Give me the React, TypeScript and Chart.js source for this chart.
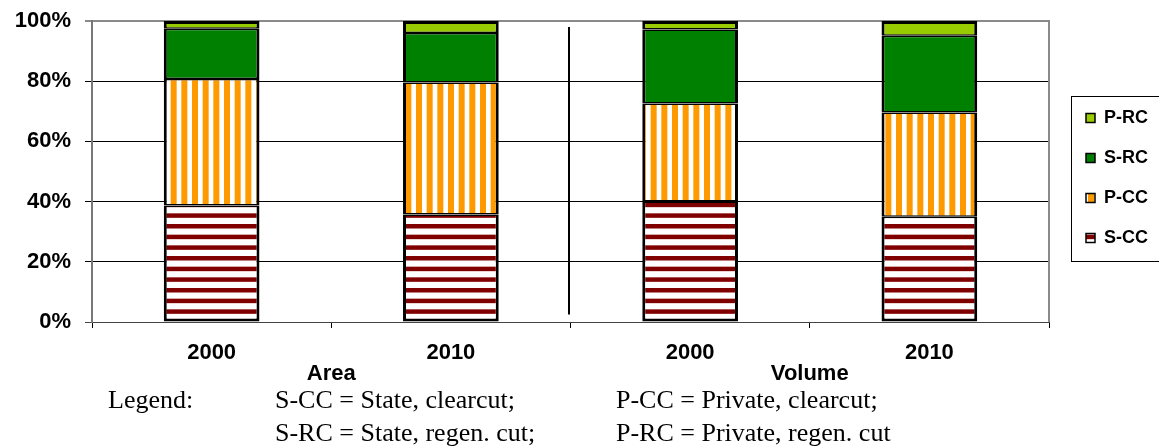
import React, { useEffect, useRef } from 'react';
import { Chart, registerables } from 'chart.js';

Chart.register(...registerables);

// ---- data ----
const categories = ['2000', '2010', '2000', '2010'];
const groupLabels = ['Area', 'Volume'];
const yTicks = [0, 20, 40, 60, 80, 100];
const sCC = [38.7, 35.7, 40.0, 35.0];
const pCC = [42.0, 43.9, 32.6, 34.6];
const sRC = [16.7, 16.4, 24.6, 25.5];
const pRC = [2.6, 4.0, 2.8, 4.9];
const dividerRange = [98, 2.5];
const footLine1 = ['Legend:', 'S-CC = State, clearcut;', 'P-CC = Private, clearcut;'];
const footLine2 = ['', 'S-RC = State, regen. cut;', 'P-RC = Private, regen. cut'];

const SANS = "'Liberation Sans', Arial, sans-serif";
const SERIF = "'Liberation Serif', 'Times New Roman', serif";
const LEGEND_FONT = 18;
const LEGEND_PAD = 22;

function makeStripes(ctx: CanvasRenderingContext2D, horizontal: boolean, color: string, band: number) {
  const period = 32 / 3;
  const c = document.createElement('canvas');
  c.width = horizontal ? 4 : 32;
  c.height = horizontal ? 32 : 4;
  const g = c.getContext('2d')!;
  g.fillStyle = '#ffffff';
  g.fillRect(0, 0, c.width, c.height);
  g.fillStyle = color;
  for (let k = 0; k < 3; k++) {
    const p = k * period;
    if (horizontal) g.fillRect(0, p, c.width, band);
    else g.fillRect(p, 0, band, c.height);
  }
  return ctx.createPattern(c, 'repeat')!;
}

const decorPlugin = {
  id: 'decor',
  afterLayout(chart: any) {
    const L = chart.legend;
    if (L) {
      L.left += 15;
      L.right += 15;
      L.top += 6.5;
      L.bottom += 6.5;
    }
  },
  afterDatasetsDraw(chart: any) {
    const { ctx } = chart;
    const xs = chart.scales.x;
    const ys = chart.scales.y;
    const x = Math.round((xs.getPixelForValue(1) + xs.getPixelForValue(2)) / 2) - 2;
    ctx.save();
    ctx.strokeStyle = '#000';
    ctx.lineWidth = 2;
    ctx.beginPath();
    ctx.moveTo(x, ys.getPixelForValue(dividerRange[0]));
    ctx.lineTo(x, ys.getPixelForValue(dividerRange[1]));
    ctx.stroke();
    ctx.restore();
  },
  afterDraw(chart: any) {
    const { ctx, chartArea } = chart;
    ctx.save();
    // right plot border
    ctx.strokeStyle = '#8a8a8a';
    ctx.lineWidth = 2;
    ctx.beginPath();
    ctx.moveTo(chartArea.right, chartArea.top - 1);
    ctx.lineTo(chartArea.right, chartArea.bottom);
    ctx.stroke();
    // legend frame
    const L = chart.legend;
    if (L && L.columnSizes && L.columnSizes[0]) {
      const colH = L.columnSizes[0].height;
      const y0 = (L.top + LEGEND_PAD + L.bottom - colH) / 2;
      const n = L.legendItems.length;
      const top = Math.round(y0 - 13);
      const bottom = Math.round(y0 + (n - 1) * (LEGEND_FONT + LEGEND_PAD) + LEGEND_FONT + 14);
      const left = Math.round(L.left + LEGEND_PAD - 15);
      ctx.strokeStyle = '#000';
      ctx.lineWidth = 1;
      ctx.strokeRect(left + 0.5, top + 0.5, chart.width, bottom - top);
    }
    ctx.restore();
  },
};

export default function App() {
  const canvasRef = useRef<HTMLCanvasElement | null>(null);

  useEffect(() => {
    const canvas = canvasRef.current!;
    const ctx = canvas.getContext('2d')!;
    const sccFill = makeStripes(ctx, true, '#800000', 4.5);
    const pccFill = makeStripes(ctx, false, '#FF9900', 6);
    const bw = 3;
    const hb = 1.5;
    const common = {
      borderColor: '#000000',
      borderSkipped: false as const,
      barPercentage: 0.4,
      categoryPercentage: 1,
      inflateAmount: 0,
    };
    const bold = (size: number) => ({ family: SANS, size, weight: 'bold' as const });

    const chart = new Chart(canvas, {
      type: 'bar',
      data: {
        labels: categories,
        datasets: [
          { label: 'S-CC', data: sCC, backgroundColor: sccFill, borderWidth: { top: hb, bottom: bw, left: bw, right: bw }, ...common },
          { label: 'P-CC', data: pCC, backgroundColor: pccFill, borderWidth: { top: hb, bottom: hb, left: bw, right: bw }, ...common },
          { label: 'S-RC', data: sRC, backgroundColor: '#008000', borderWidth: { top: hb, bottom: hb, left: bw, right: bw }, ...common },
          { label: 'P-RC', data: pRC, backgroundColor: '#99CC00', borderWidth: { top: bw, bottom: hb, left: bw, right: bw }, ...common },
        ],
      },
      options: {
        responsive: false,
        animation: false,
        devicePixelRatio: 1,
        layout: { padding: { top: 21, left: 0, right: 16, bottom: 58 } },
        plugins: {
          tooltip: { enabled: false },
          legend: {
            position: 'right',
            reverse: true,
            fullSize: false,
            labels: {
              boxWidth: 9,
              boxHeight: 9,
              padding: LEGEND_PAD,
              color: '#000',
              font: bold(LEGEND_FONT),
              generateLabels: (ch: any) =>
                (Chart.defaults.plugins.legend.labels as any)
                  .generateLabels(ch)
                  .map((l: any) => ({ ...l, lineWidth: 1.5, strokeStyle: '#000' })),
            },
          },
        },
        scales: {
          x: {
            stacked: true,
            offset: true,
            weight: 0,
            grid: { offset: true, drawOnChartArea: false, tickLength: 6, color: '#000' },
            border: { color: '#444', width: 1 },
            ticks: { color: '#000', font: bold(22), padding: 12, autoSkip: false, maxRotation: 0 },
            afterFit: (s: any) => { s.height = 38; },
          },
          x2: {
            type: 'category',
            labels: groupLabels,
            position: 'bottom',
            offset: true,
            weight: 1,
            grid: { display: false, drawTicks: false },
            border: { display: false },
            ticks: { color: '#000', font: bold(22), padding: 1, autoSkip: false, maxRotation: 0 },
            afterFit: (s: any) => { s.height = 28; },
          },
          y: {
            stacked: true,
            min: 0,
            max: 100,
            afterBuildTicks: (s: any) => { s.ticks = yTicks.map((v) => ({ value: v })); },
            ticks: { color: '#000', font: bold(22), padding: 14, callback: (v: any) => v + '%' },
            grid: {
              tickLength: 7,
              color: (c: any) => (c.tick && c.tick.value === 100 ? '#8a8a8a' : c.tick && c.tick.value === 0 ? '#444' : '#000'),
              lineWidth: (c: any) => (c.tick && c.tick.value === 100 ? 2 : 1),
            },
            border: { color: '#777', width: 2 },
            afterFit: (s: any) => {
              s.width = 92;
              s.paddingTop = 0;
              s.paddingBottom = 0;
            },
          },
        },
      },
      plugins: [decorPlugin],
    } as any);
    return () => chart.destroy();
  }, []);

  const lineStyle = (top: number): React.CSSProperties => ({
    position: 'absolute',
    top,
    left: 0,
    width: 1159,
    height: 26,
    fontFamily: SERIF,
    fontSize: 26,
    lineHeight: '26px',
    color: '#000',
    whiteSpace: 'nowrap',
  });
  const cols = [108, 275, 616];

  return (
    <div style={{ position: 'fixed', left: 0, top: 0, width: 1159, height: 446, background: '#fff', overflow: 'hidden' }}>
      <canvas ref={canvasRef} width={1159} height={446} style={{ display: 'block', width: 1159, height: 446 }} />
      {[footLine1, footLine2].map((line, li) => (
        <div key={li} style={lineStyle(li === 0 ? 387 : 420)}>
          {line.map((t, i) => (
            <span key={i} style={{ position: 'absolute', left: cols[i], top: 0 }}>{t}</span>
          ))}
        </div>
      ))}
    </div>
  );
}
